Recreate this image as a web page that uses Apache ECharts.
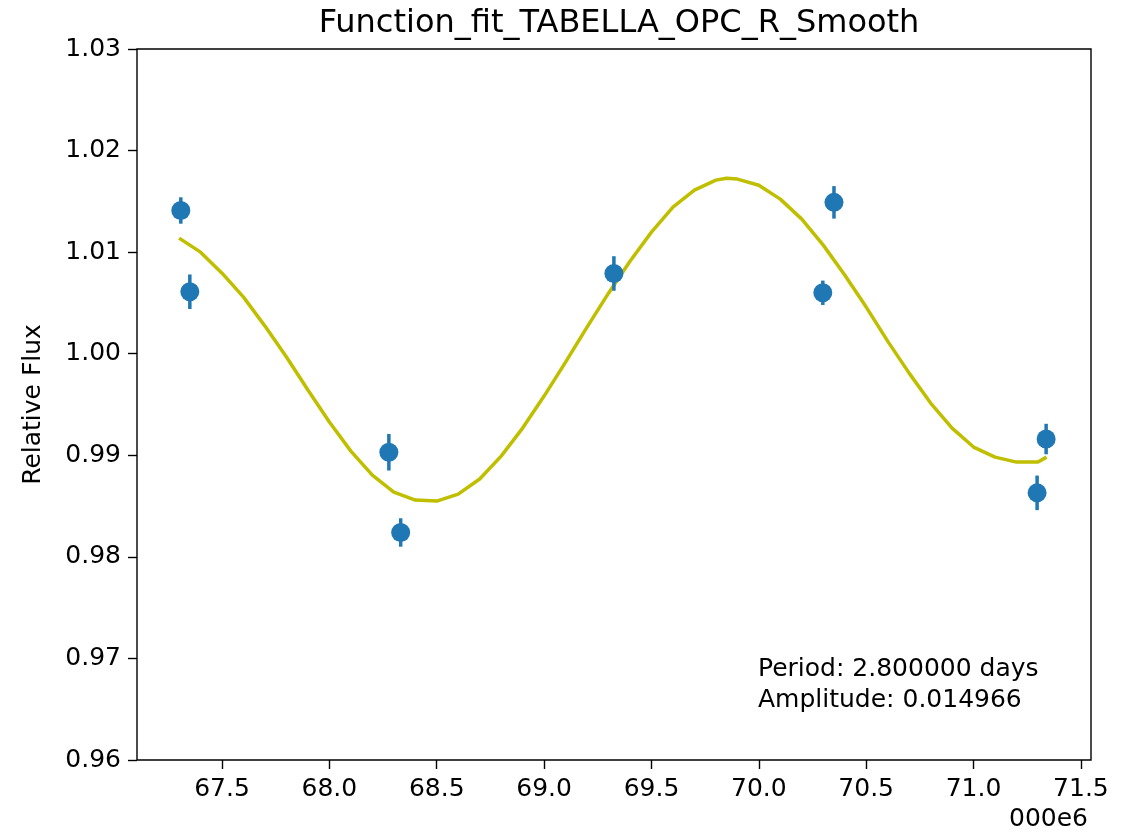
<!DOCTYPE html>
<html>
<head>
<meta charset="utf-8">
<script src="https://cdn.jsdelivr.net/npm/echarts@6/dist/echarts.min.js"></script>
<style>
  html, body { margin: 0; padding: 0; background: #fff; }
  #chart { width: 1128px; height: 837px; }
</style>
</head>
<body>
<div id="chart"></div>
<script>
// Observed photometry (time offset by 2.46e6 days, shown in units of the axis)
const obsTime = [67.308, 67.350, 68.277, 68.332, 69.325, 70.298, 70.350, 71.296, 71.338];
const obsFlux = [1.0141, 1.0061, 0.9903, 0.9824, 1.0079, 1.0060, 1.0149, 0.9863, 0.9916];
const obsErr  = [0.0013, 0.0017, 0.0018, 0.0014, 0.0017, 0.0012, 0.0016, 0.0017, 0.0015];

// Smoothed sinusoidal fit
const fitTime = [67.30, 67.40, 67.50, 67.60, 67.70, 67.80, 67.90, 68.00, 68.10, 68.20,
                 68.30, 68.40, 68.50, 68.60, 68.70, 68.80, 68.90, 69.00, 69.10, 69.20,
                 69.30, 69.40, 69.50, 69.60, 69.70, 69.80, 69.85, 69.90, 70.00, 70.10,
                 70.20, 70.30, 70.40, 70.50, 70.60, 70.70, 70.80, 70.90, 71.00, 71.10,
                 71.20, 71.30, 71.34];
const fitFlux = [1.01138, 1.01000, 1.00793, 1.00557, 1.00272, 0.99967, 0.99642, 0.99327, 0.99041, 0.98805,
                 0.98638, 0.98559, 0.98549, 0.98618, 0.98766, 0.98992, 0.99268, 0.99583, 0.99917, 1.00262,
                 1.00596, 1.00911, 1.01197, 1.01443, 1.01610, 1.01709, 1.01728, 1.01719, 1.01659, 1.01522,
                 1.01325, 1.01069, 1.00774, 1.00459, 1.00124, 0.99809, 0.99514, 0.99268, 0.99081, 0.98982,
                 0.98933, 0.98933, 0.98982];

const xTicks = [67.5, 68.0, 68.5, 69.0, 69.5, 70.0, 70.5, 71.0, 71.5];
const yTicks = [0.96, 0.97, 0.98, 0.99, 1.00, 1.01, 1.02, 1.03];

const chartTitle = 'Function_fit_TABELLA_OPC_R_Smooth';
const yAxisName = 'Relative Flux';
const infoLines = ['Period: 2.800000 days', 'Amplitude: 0.014966'];
const offsetText = '000e6';

const FONT = '"DejaVu Sans", sans-serif';
const BLUE = '#1f77b4';
const OLIVE = '#bfbf00';

const chart = echarts.init(document.getElementById('chart'), null, { renderer: 'canvas' });

const obsPoints = obsTime.map((t, i) => [t, obsFlux[i]]);
const errData = obsTime.map((t, i) => [t, obsFlux[i] - obsErr[i], obsFlux[i] + obsErr[i]]);
const fitData = fitTime.map((t, i) => [t, fitFlux[i]]);

const option = {
  animation: false,
  backgroundColor: '#ffffff',
  title: {
    text: chartTitle,
    left: 614,
    top: 3,
    textAlign: 'center',
    textStyle: { fontFamily: FONT, fontSize: 32, fontWeight: 'normal', color: '#000' }
  },
  grid: {
    left: 137, top: 49, width: 954, height: 711,
    show: true, borderColor: '#000', borderWidth: 1.4, backgroundColor: 'transparent'
  },
  xAxis: {
    type: 'value',
    min: 67.104,
    max: 71.547,
    axisLine: { show: false },
    splitLine: { show: false },
    axisTick: {
      show: true, inside: false, length: 9,
      customValues: xTicks,
      lineStyle: { color: '#000', width: 1.4 }
    },
    axisLabel: {
      customValues: xTicks,
      formatter: v => v.toFixed(1),
      fontFamily: FONT, fontSize: 25, color: '#000', margin: 17
    }
  },
  yAxis: {
    type: 'value',
    min: 0.96,
    max: 1.03,
    name: yAxisName,
    nameLocation: 'middle',
    nameGap: 91,
    nameTextStyle: { fontFamily: FONT, fontSize: 25, color: '#000' },
    axisLine: { show: false },
    splitLine: { show: false },
    axisTick: {
      show: true, inside: false, length: 9,
      customValues: yTicks,
      lineStyle: { color: '#000', width: 1.4 }
    },
    axisLabel: {
      customValues: yTicks,
      formatter: v => v.toFixed(2),
      fontFamily: FONT, fontSize: 25, color: '#000', margin: 16
    }
  },
  graphic: [
    {
      type: 'text',
      left: 758, top: 654,
      style: {
        text: infoLines.join('\n'),
        fontFamily: FONT, fontSize: 25, lineHeight: 31, fill: '#000'
      }
    },
    {
      type: 'text',
      right: 40, top: 807,
      style: { text: offsetText, fontFamily: FONT, fontSize: 25, fill: '#000' }
    }
  ],
  series: [
    {
      name: 'fit',
      type: 'line',
      data: fitData,
      showSymbol: false,
      symbol: 'none',
      smooth: false,
      lineStyle: { color: OLIVE, width: 3.5 },
      z: 2
    },
    {
      name: 'errors',
      type: 'custom',
      data: errData,
      renderItem: function (params, api) {
        const lo = api.coord([api.value(0), api.value(1)]);
        const hi = api.coord([api.value(0), api.value(2)]);
        return {
          type: 'line',
          shape: { x1: lo[0], y1: lo[1], x2: hi[0], y2: hi[1] },
          style: { stroke: BLUE, lineWidth: 3.5 }
        };
      },
      z: 3
    },
    {
      name: 'data',
      type: 'scatter',
      data: obsPoints,
      symbol: 'circle',
      symbolSize: 19,
      itemStyle: { color: BLUE, opacity: 1 },
      z: 4
    }
  ]
};

chart.setOption(option);
</script>
</body>
</html>
